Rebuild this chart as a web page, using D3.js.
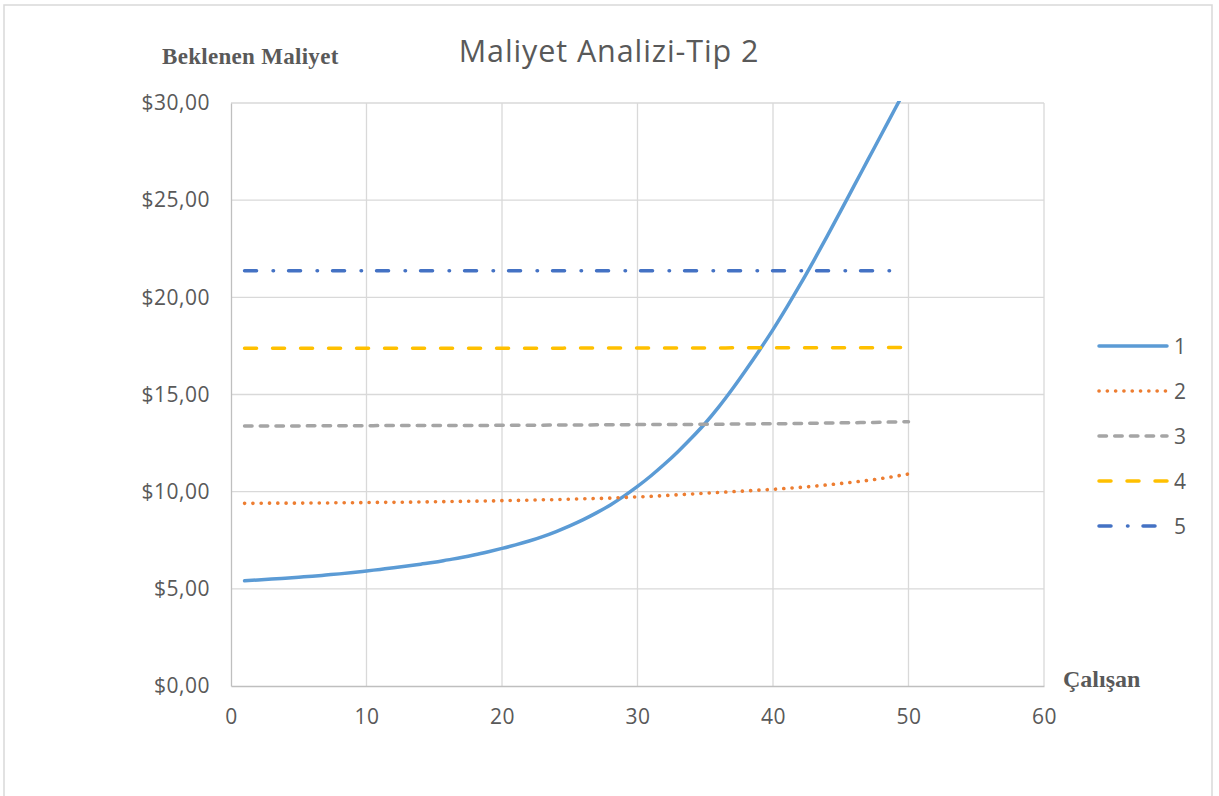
<!DOCTYPE html>
<html>
<head>
<meta charset="utf-8">
<script src="https://cdn.jsdelivr.net/npm/d3@7"></script>
<style>
  html, body { margin: 0; padding: 0; background: #fff; }
  svg { display: block; }
</style>
</head>
<body>
<svg id="chart" width="1219" height="796"></svg>
<script>
// Number of employees (x) for each computed cost
const employees = d3.range(1, 51);

// Expected cost per series, one value per employee count
const cost1 = [5.41, 5.46, 5.50, 5.55, 5.60, 5.65, 5.71, 5.77, 5.84, 5.92,
               6.00, 6.08, 6.17, 6.27, 6.37, 6.49, 6.61, 6.75, 6.91, 7.08,
               7.26, 7.46, 7.69, 7.95, 8.24, 8.56, 8.92, 9.32, 9.77, 10.27,
               10.82, 11.42, 12.07, 12.77, 13.52, 14.36, 15.28, 16.26, 17.28, 18.34,
               19.47, 20.65, 21.88, 23.15, 24.45, 25.76, 27.07, 28.38, 29.69, 31.00];
const cost2 = [9.40, 9.40, 9.41, 9.41, 9.41, 9.42, 9.42, 9.43, 9.43, 9.44,
               9.45, 9.45, 9.46, 9.47, 9.48, 9.49, 9.50, 9.51, 9.52, 9.54,
               9.55, 9.56, 9.58, 9.59, 9.61, 9.63, 9.65, 9.67, 9.70, 9.73,
               9.76, 9.80, 9.84, 9.88, 9.92, 9.96, 10.00, 10.04, 10.08, 10.12,
               10.17, 10.22, 10.28, 10.35, 10.42, 10.50, 10.58, 10.68, 10.79, 10.91];
const cost3 = [13.38, 13.38, 13.38, 13.38, 13.38, 13.39, 13.39, 13.39, 13.39, 13.39,
               13.40, 13.40, 13.40, 13.40, 13.40, 13.41, 13.41, 13.41, 13.41, 13.42,
               13.42, 13.42, 13.42, 13.43, 13.43, 13.43, 13.44, 13.44, 13.44, 13.45,
               13.45, 13.45, 13.46, 13.46, 13.47, 13.47, 13.48, 13.48, 13.49, 13.50,
               13.50, 13.51, 13.52, 13.53, 13.54, 13.55, 13.56, 13.57, 13.59, 13.60];
const cost4 = [17.38, 17.38, 17.38, 17.38, 17.38, 17.38, 17.38, 17.38, 17.38, 17.38,
               17.38, 17.38, 17.38, 17.38, 17.38, 17.38, 17.38, 17.38, 17.38, 17.38,
               17.38, 17.38, 17.38, 17.38, 17.39, 17.39, 17.39, 17.39, 17.39, 17.39,
               17.39, 17.39, 17.39, 17.39, 17.39, 17.39, 17.40, 17.40, 17.40, 17.40,
               17.40, 17.40, 17.40, 17.40, 17.41, 17.41, 17.41, 17.41, 17.42, 17.42];
const cost5 = [21.37, 21.37, 21.37, 21.37, 21.37, 21.37, 21.37, 21.37, 21.37, 21.37,
               21.37, 21.37, 21.37, 21.37, 21.37, 21.37, 21.37, 21.37, 21.37, 21.37,
               21.37, 21.37, 21.37, 21.37, 21.37, 21.37, 21.37, 21.37, 21.37, 21.37,
               21.37, 21.37, 21.37, 21.37, 21.37, 21.37, 21.37, 21.37, 21.37, 21.37,
               21.37, 21.37, 21.37, 21.37, 21.37, 21.37, 21.37, 21.37, 21.37];

const seriesNames = ["1", "2", "3", "4", "5"];
const xTicks = [0, 10, 20, 30, 40, 50, 60];
const yTicks = [0, 5, 10, 15, 20, 25, 30];
const titleText = "Maliyet Analizi-Tip 2";
const yTitleText = "Beklenen Maliyet";
const xTitleText = "Çalışan";

const seriesValues = [cost1, cost2, cost3, cost4, cost5];
const seriesStyle = [
  { color: "#5b9bd5", dash: null, width: 3.5 },
  { color: "#ed7d31", dash: "0.1,8.2", width: 3.6 },
  { color: "#a5a5a5", dash: "7.5,8.2", width: 3.5 },
  { color: "#ffc000", dash: "12,16", width: 3.5 },
  { color: "#4472c4", dash: "12,16.5,0.5,15", width: 3.5 }
];

const svg = d3.select("#chart");
const fontUI = "'Open Sans', Lato, sans-serif";
const fontSerif = "'Liberation Serif', 'DejaVu Serif', serif";
const textColor = "#595959";

// chart area frame
svg.append("rect")
  .attr("x", 4).attr("y", 5).attr("width", 1208).attr("height", 800)
  .attr("fill", "#fff").attr("stroke", "#d9d9d9").attr("stroke-width", 1.5);

const plot = { left: 231, right: 1044, top: 103, bottom: 686 };
const x = d3.scaleLinear().domain([0, 60]).range([plot.left, plot.right]);
const y = d3.scaleLinear().domain([0, 30]).range([plot.bottom, plot.top]);

// gridlines
const grid = svg.append("g");
grid.selectAll("line.h").data(yTicks.filter(d => d > 0)).enter().append("line")
  .attr("x1", plot.left).attr("x2", plot.right)
  .attr("y1", d => y(d)).attr("y2", d => y(d))
  .attr("stroke", "#d9d9d9").attr("stroke-width", 1.3);
grid.selectAll("line.v").data(xTicks.filter(d => d > 0)).enter().append("line")
  .attr("x1", d => x(d)).attr("x2", d => x(d))
  .attr("y1", plot.top).attr("y2", plot.bottom)
  .attr("stroke", "#d9d9d9").attr("stroke-width", 1.3);

// axes
const yAxis = d3.axisLeft(y).tickValues(yTicks).tickSize(0).tickPadding(21)
  .tickFormat(d => "$" + d3.format(".2f")(d).replace(".", ","));
const xAxis = d3.axisBottom(x).tickValues(xTicks).tickSize(0).tickPadding(23)
  .tickFormat(d3.format("d"));

const gy = svg.append("g").attr("transform", `translate(${plot.left},0)`).call(yAxis);
const gx = svg.append("g").attr("transform", `translate(0,${plot.bottom})`).call(xAxis);
[gy, gx].forEach(g => {
  g.select(".domain").attr("stroke", "#bfbfbf").attr("stroke-width", 1.3);
  g.selectAll("text").attr("fill", textColor).style("font-family", fontUI)
    .style("font-size", "21px").style("letter-spacing", "0.5px");
});

// clip to plot area
svg.append("clipPath").attr("id", "plotClip").append("rect")
  .attr("x", plot.left).attr("y", plot.top - 2)
  .attr("width", plot.right - plot.left).attr("height", plot.bottom - plot.top + 2);

const line = d3.line()
  .x((d, i) => x(employees[i]))
  .y(d => y(d))
  .curve(d3.curveMonotoneX);

const lines = svg.append("g").attr("clip-path", "url(#plotClip)");
seriesValues.forEach((vals, i) => {
  lines.append("path")
    .datum(vals)
    .attr("d", line)
    .attr("fill", "none")
    .attr("stroke", seriesStyle[i].color)
    .attr("stroke-width", seriesStyle[i].width)
    .attr("stroke-linecap", "round")
    .attr("stroke-dasharray", seriesStyle[i].dash);
});

// legend
const legend = svg.append("g");
seriesNames.forEach((name, i) => {
  const ly = 346 + i * 45;
  legend.append("line")
    .attr("x1", 1099).attr("x2", 1167).attr("y1", ly).attr("y2", ly)
    .attr("stroke", seriesStyle[i].color).attr("stroke-width", seriesStyle[i].width)
    .attr("stroke-linecap", "round")
    .attr("stroke-dasharray", seriesStyle[i].dash);
  legend.append("text")
    .attr("x", 1174).attr("y", ly).attr("dy", "0.36em")
    .attr("fill", textColor)
    .style("font-family", fontUI).style("font-size", "21px")
    .text(name);
});

// titles
svg.append("text")
  .attr("x", 609).attr("y", 62)
  .attr("text-anchor", "middle")
  .attr("fill", textColor)
  .style("font-family", fontUI).style("font-size", "30.5px")
  .style("letter-spacing", "0.9px")
  .text(titleText);

svg.append("text")
  .attr("x", 162).attr("y", 64)
  .attr("fill", textColor)
  .style("font-family", fontSerif).style("font-size", "23px").style("font-weight", "bold")
  .style("letter-spacing", "0.3px")
  .text(yTitleText);

svg.append("text")
  .attr("x", 1063).attr("y", 687)
  .attr("fill", textColor)
  .style("font-family", fontSerif).style("font-size", "24px").style("font-weight", "bold")
  .text(xTitleText);
</script>
</body>
</html>
